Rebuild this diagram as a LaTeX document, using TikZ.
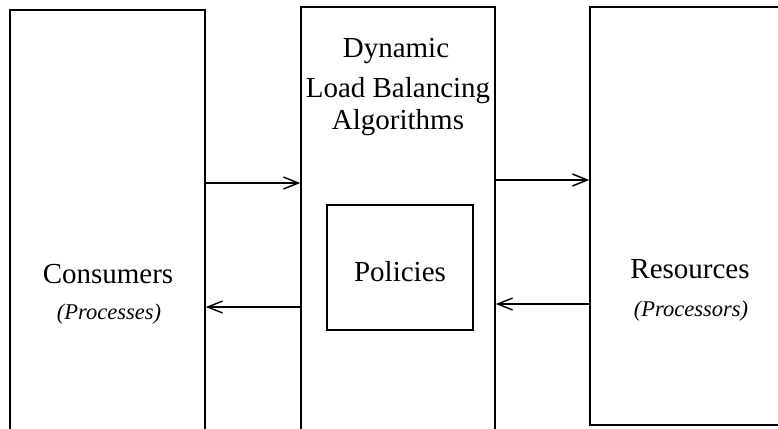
\documentclass[tikz,border=0pt]{standalone}
\usepackage{fontspec}
\setmainfont{Liberation Serif}
\usetikzlibrary{arrows.meta}
\begin{document}
\begin{tikzpicture}[x=1pt,y=-1pt,
  block/.style={draw, line width=1.5pt, rectangle, inner sep=0pt},
  big/.style={font=\fontsize{29}{36}\selectfont, inner sep=0pt, anchor=base},
  small/.style={font=\fontsize{22.5}{26}\selectfont\itshape, inner sep=0pt, anchor=base},
  flow/.style={line width=1.4pt, -{Straight Barb[length=15pt,width=12pt,line width=1.4pt]}}]
  \clip (0,0) rectangle (778,428);
  \fill[white] (0,0) rectangle (778,428);

  % three main blocks
  \node[block, minimum width=195pt, minimum height=426pt] (cons) at (107.5,223) {};
  \node[block, minimum width=194pt, minimum height=430pt] (dlb) at (398,222) {};
  \node[block, minimum width=210pt, minimum height=418pt] (res) at (695,216) {};
  % inner policy block
  \node[block, line width=1.2pt, minimum width=146pt, minimum height=125pt] (pol) at (400,267.5) {};

  % labels
  \node[big] (t1) at (396,57) {Dynamic};
  \node[big] (t2) at (398,97) {Load Balancing};
  \node[big] (t3) at (398,129) {Algorithms};
  \node[big] (polt) at (400,281) {Policies};
  \node[big] (const) at (108,283) {Consumers};
  \node[small] (conss) at (109,319) {(Processes)};
  \node[big] (rest) at (690,278) {Resources};
  \node[small] (ress) at (691,316) {(Processors)};

  % connectors
  \coordinate (u1) at (0,183);
  \coordinate (u2) at (0,180);
  \coordinate (d1) at (0,307);
  \coordinate (d2) at (0,304);
  \draw[flow] (cons.east |- u1) -- (dlb.west |- u1);
  \draw[flow] (dlb.east |- u2) -- (res.west |- u2);
  \draw[flow] (dlb.west |- d1) -- (cons.east |- d1);
  \draw[flow] (res.west |- d2) -- (dlb.east |- d2);
\end{tikzpicture}
\end{document}
